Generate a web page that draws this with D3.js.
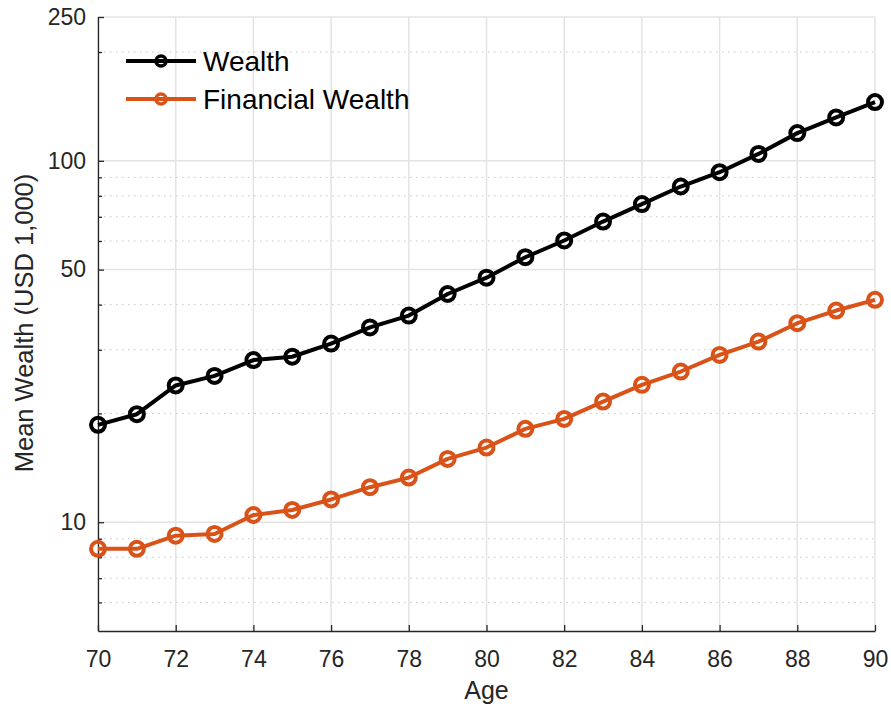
<!DOCTYPE html>
<html>
<head>
<meta charset="utf-8">
<script src="https://cdn.jsdelivr.net/npm/d3@7"></script>
<style>
  body { margin: 0; background: #fff; }
  svg, svg text { font-family: "Liberation Sans", Arial, Helvetica, sans-serif; }
</style>
</head>
<body>
<svg id="chart" width="891" height="706"></svg>
<script>
const ages = d3.range(70, 91);
const wealth = [18.6, 19.9, 23.9, 25.4, 28.1, 28.7, 31.2, 34.6, 37.3, 42.8, 47.5,
  54.1, 60.2, 67.9, 75.9, 84.9, 93.0, 104.5, 119.3, 131.8, 145.4];
const financialWealth = [8.44, 8.44, 9.18, 9.28, 10.47, 10.81, 11.56, 12.5, 13.29, 14.97, 16.09,
  18.13, 19.31, 21.57, 23.99, 26.12, 29.04, 31.6, 35.54, 38.52, 41.24];
const xTicks = [70, 72, 74, 76, 78, 80, 82, 84, 86, 88, 90];
const yTicks = [10, 50, 100, 250];
const yMinorTicks = [6, 7, 8, 9, 20, 30, 40, 60, 70, 80, 90, 200];

const series = [
  { name: 'Wealth', values: wealth, color: '#000000' },
  { name: 'Financial Wealth', values: financialWealth, color: '#D95319' }
];

const width = 891;
const height = 706;
const margin = { top: 17, right: 16, bottom: 75, left: 98 };
const innerWidth = width - margin.left - margin.right;
const innerHeight = height - margin.top - margin.bottom;

const svg = d3.select('#chart');
const chart = svg.append('g')
  .attr('transform', `translate(${margin.left},${margin.top})`);

const xScale = d3.scaleLinear().domain([70, 90]).range([0, innerWidth]);
const yScale = d3.scaleLog().domain([5, 250]).range([innerHeight, 0]);

const gridColor = '#e3e3e3';
const axisColor = '#262626';
const fontFamily = '"Liberation Sans", Arial, Helvetica, sans-serif';

// minor grid (dotted)
chart.append('g').selectAll('line')
  .data(yMinorTicks)
  .enter().append('line')
  .attr('x1', 0).attr('x2', innerWidth)
  .attr('y1', d => yScale(d)).attr('y2', d => yScale(d))
  .attr('stroke', '#c4c4c4')
  .attr('stroke-width', 1)
  .attr('stroke-dasharray', '1.5,4.5');

// major grid
chart.append('g').selectAll('line')
  .data(yTicks)
  .enter().append('line')
  .attr('x1', 0).attr('x2', innerWidth)
  .attr('y1', d => yScale(d)).attr('y2', d => yScale(d))
  .attr('stroke', gridColor)
  .attr('stroke-width', 1.5);
chart.append('g').selectAll('line')
  .data(xTicks)
  .enter().append('line')
  .attr('x1', d => xScale(d)).attr('x2', d => xScale(d))
  .attr('y1', 0).attr('y2', innerHeight)
  .attr('stroke', gridColor)
  .attr('stroke-width', 1.5);

// axes, ticks pointing inward
const xAxis = chart.append('g')
  .attr('transform', `translate(0,${innerHeight})`)
  .call(d3.axisBottom(xScale).tickValues(xTicks).tickSizeInner(-6).tickSizeOuter(0).tickPadding(20));
const yAxis = chart.append('g')
  .call(d3.axisLeft(yScale).tickValues(yTicks).tickFormat(d3.format('d')).tickSizeInner(-6).tickSizeOuter(0).tickPadding(12));
chart.append('g')
  .call(d3.axisLeft(yScale).tickValues(yMinorTicks).tickFormat('').tickSizeInner(-4).tickSizeOuter(0))
  .call(g => g.select('.domain').remove())
  .call(g => g.selectAll('.tick text').remove());

[xAxis, yAxis].forEach(ax => {
  ax.attr('font-family', fontFamily).attr('font-size', 23);
  ax.select('.domain').attr('stroke', axisColor).attr('stroke-width', 1.3);
  ax.selectAll('.tick text').attr('fill', axisColor);
});
chart.selectAll('.tick line').attr('stroke', axisColor).attr('stroke-width', 1.3);

const line = d3.line()
  .x((d, i) => xScale(ages[i]))
  .y(d => yScale(d));

for (const s of series) {
  chart.append('path')
    .datum(s.values)
    .attr('fill', 'none')
    .attr('stroke', s.color)
    .attr('stroke-width', 4)
    .attr('stroke-linejoin', 'round')
    .attr('d', line);
  chart.selectAll(null)
    .data(s.values)
    .enter().append('circle')
    .attr('cx', (d, i) => xScale(ages[i]))
    .attr('cy', d => yScale(d))
    .attr('r', 7)
    .attr('fill', 'none')
    .attr('stroke', s.color)
    .attr('stroke-width', 4);
}

// axis titles
svg.append('text')
  .attr('x', margin.left + innerWidth / 2)
  .attr('y', 699)
  .attr('text-anchor', 'middle')
  .attr('font-size', '25px')
  .attr('fill', axisColor)
  .text('Age');

svg.append('text')
  .attr('transform', 'rotate(-90)')
  .attr('x', -(margin.top + innerHeight / 2) + 1)
  .attr('y', 33)
  .attr('text-anchor', 'middle')
  .attr('font-size', '25.5px')
  .attr('fill', axisColor)
  .text('Mean Wealth (USD 1,000)');

// legend
const legend = svg.append('g')
  .attr('transform', 'translate(126, 61)');
series.forEach((s, i) => {
  const item = legend.append('g').attr('transform', `translate(0, ${i * 38})`);
  item.append('line')
    .attr('x1', 0).attr('x2', 70)
    .attr('stroke', s.color)
    .attr('stroke-width', 4);
  item.append('circle')
    .attr('cx', 35).attr('r', 5)
    .attr('fill', 'none')
    .attr('stroke', s.color)
    .attr('stroke-width', 3.5);
  item.append('text')
    .attr('x', 77)
    .attr('dy', '0.35em')
    .attr('font-size', '28px')
    .attr('fill', '#000')
    .text(s.name);
});
</script>
</body>
</html>
